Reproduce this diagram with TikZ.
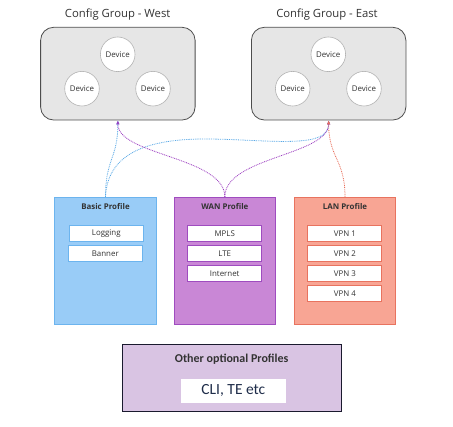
\documentclass[tikz,border=0pt]{standalone}
\usepackage{fontspec}
\setmainfont{Open Sans}
\newfontfamily\carlito{Carlito}
\usetikzlibrary{arrows.meta}
\definecolor{grpfill}{HTML}{E6E6E6}
\definecolor{grpline}{HTML}{4D4D4D}
\definecolor{devline}{HTML}{B3B3B3}
\definecolor{txt}{HTML}{333333}
\definecolor{basfill}{HTML}{99CCF7}
\definecolor{basline}{HTML}{6CB4EE}
\definecolor{wanfill}{HTML}{C987D6}
\definecolor{wanline}{HTML}{9F4CBF}
\definecolor{lanfill}{HTML}{F8A594}
\definecolor{lanline}{HTML}{E8735F}
\definecolor{othfill}{HTML}{D9C4E3}
\definecolor{othline}{HTML}{1A1A2E}
\definecolor{navy}{HTML}{1F2D4A}
\definecolor{cblue}{HTML}{5AA9E6}
\definecolor{cpurple}{HTML}{9B3DC0}
\definecolor{csalmon}{HTML}{E8705C}
\begin{document}
\begin{tikzpicture}[x=1pt,y=-1pt,
  group/.style={draw=grpline, fill=grpfill, rounded corners=13pt, minimum width=154.5pt, minimum height=92.7pt, line width=0.8pt, inner sep=0pt},
  title/.style={font=\fontsize{11.3}{13}\selectfont, text=txt, inner sep=0pt},
  device/.style={circle, draw=devline, fill=white, minimum size=34.6pt, inner sep=0pt, font=\fontsize{7.9}{9}\selectfont, text=txt, line width=0.6pt},
  profile/.style={minimum width=101.6pt, minimum height=127pt, line width=0.8pt, inner sep=0pt},
  ptitle/.style={font=\bfseries\fontsize{7.9}{9}\selectfont, text=txt, inner sep=0pt},
  item/.style={fill=white, minimum width=74pt, minimum height=16pt, inner sep=0pt, line width=0.8pt, font=\fontsize{7.9}{9}\selectfont, text=txt},
  conn/.style={line width=0.8pt, dash pattern=on 0.9pt off 0.9pt, -{Latex[length=4pt,width=3.5pt]}}
]
\useasboundingbox (0,0) rectangle (453,427);

% groups
\node[group] (west) at (117.85,73.65) {};
\node[group] (east) at (328.65,73.65) {};
\node[title] (westt) at (117.7,15) {Config Group - West};
\node[title] (eastt) at (327,15) {Config Group - East};
\node[device] (w1) at (117.7,54.3) {Device};
\node[device] (w2) at (82,88.7) {Device};
\node[device] (w3) at (153,88.7) {Device};
\node[device] (e1) at (328.3,54.3) {Device};
\node[device] (e2) at (292.7,88.7) {Device};
\node[device] (e3) at (364,88.7) {Device};

% profiles
\node[profile, draw=basline, fill=basfill] (basic) at (105.5,260.8) {};
\node[profile, draw=wanline, fill=wanfill] (wan) at (224.85,260.8) {};
\node[profile, draw=lanline, fill=lanfill] (lan) at (345,260.8) {};
\node[ptitle] (basict) at (105.5,206.7) {Basic Profile};
\node[ptitle] (want) at (224.85,206.7) {WAN Profile};
\node[ptitle] (lant) at (345,206.7) {LAN Profile};

\node[item, draw=basline] (log) at (106.3,233.3) {Logging};
\node[item, draw=basline] (ban) at (105.3,253.3) {Banner};
\node[item, draw=wanline] (mpls) at (224.7,233.3) {MPLS};
\node[item, draw=wanline] (lte) at (224.7,253.3) {LTE};
\node[item, draw=wanline] (inet) at (224.7,273.3) {Internet};
\node[item, draw=lanline] (v1) at (344.85,233.3) {VPN 1};
\node[item, draw=lanline] (v2) at (344.85,253.3) {VPN 2};
\node[item, draw=lanline] (v3) at (344.85,273.3) {VPN 3};
\node[item, draw=lanline] (v4) at (344.85,293.3) {VPN 4};

% other
\node[draw=othline, fill=othfill, line width=0.8pt, minimum width=218.7pt, minimum height=67pt, inner sep=0pt] (other) at (231.65,377.8) {};
\node[font=\carlito\bfseries\fontsize{12}{14}\selectfont, text=txt, inner sep=0pt] (othert) at (231.65,359.3) {Other optional Profiles};
\node[fill=white, minimum width=104.7pt, minimum height=23.7pt, inner sep=0pt, font=\carlito\fontsize{15.5}{18}\selectfont, text=navy] (cli) at (233.35,390.85) {CLI, TE etc};

% connectors
\coordinate (bemid) at (205,139);
\draw[conn, cblue] (basic.north) .. controls +(0,-38) and +(0,38) .. (west.south);
\draw[conn, cblue] (basic.north) .. controls +(2,-45) and (150,139) .. (bemid) .. controls (265,139) and +(0,30) .. (east.south);
\draw[conn, cpurple] (wan.north) .. controls +(0,-40) and +(0,35) .. (west.south);
\draw[conn, cpurple] (wan.north) .. controls +(0,-40) and +(0,35) .. (east.south);
\draw[conn, csalmon] (lan.north) .. controls +(0,-38) and +(0,38) .. (east.south);
\end{tikzpicture}
\end{document}
